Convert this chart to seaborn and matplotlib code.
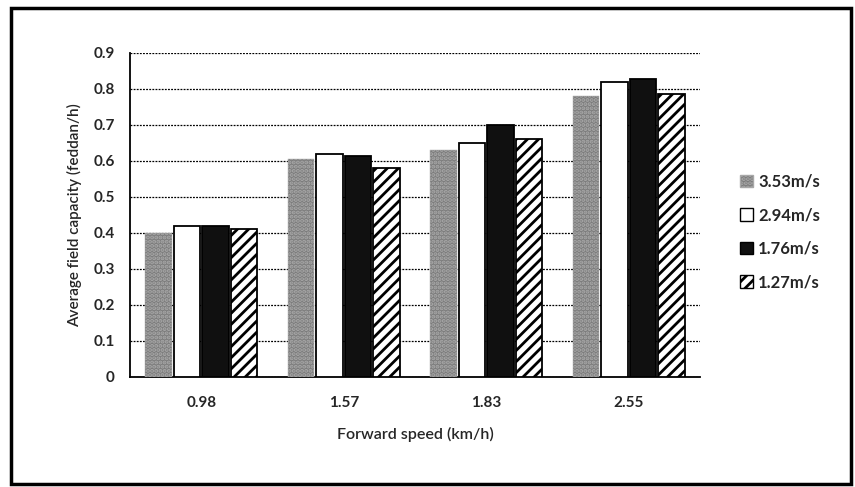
import matplotlib
matplotlib.use("Agg")
import matplotlib.pyplot as plt
import matplotlib.patches as mpatches
from matplotlib.ticker import FixedLocator
import pandas as pd
import seaborn as sns

speeds = ["0.98", "1.57", "1.83", "2.55"]
series = ["3.53m/s", "2.94m/s", "1.76m/s", "1.27m/s"]
v_353 = [0.40, 0.605, 0.63, 0.78]
v_294 = [0.42, 0.62, 0.65, 0.82]
v_176 = [0.42, 0.615, 0.70, 0.827]
v_127 = [0.41, 0.58, 0.66, 0.786]

df = pd.DataFrame({
    "speed": speeds * 4,
    "air": [s for s in series for _ in speeds],
    "cap": v_353 + v_294 + v_176 + v_127,
})

sns.set_style("white")
plt.rcParams["font.family"] = ["Lato", "DejaVu Sans"]
plt.rcParams["hatch.linewidth"] = 2.0

fig = plt.figure(figsize=(8.55, 4.87), dpi=100)
ax = fig.add_axes([130 / 855, 1 - 377 / 487, 570 / 855, 324 / 487])

styles = [
    dict(facecolor="#7c7c7c", edgecolor="#a8a8a8", hatch="...."),
    dict(facecolor="white", edgecolor="black", hatch=None),
    dict(facecolor="#101010", edgecolor="black", hatch=None),
    dict(facecolor="white", edgecolor="black", hatch="///"),
]

sns.barplot(data=df, x="speed", y="cap", hue="air", order=speeds,
            hue_order=series, width=0.8, gap=0.06, ax=ax, legend=False)

for cont, st in zip(ax.containers, styles):
    for bar in cont:
        bar.set_facecolor(st["facecolor"])
        bar.set_edgecolor(st["edgecolor"])
        bar.set_linewidth(1.3)
        if st["hatch"]:
            bar.set_hatch(st["hatch"])
        bar.set_zorder(3)
for bar in ax.containers[0]:
    bar.set_linewidth(0.3)

ax.set_ylim(0, 0.9)
ax.set_xlim(-0.5, 3.5)
ax.set_yticks([i / 10 for i in range(10)])
ax.set_yticklabels(["0"] + [f"0.{i}" for i in range(1, 10)],
                   fontsize=11, fontweight="bold")
ax.set_xticks(range(4))
ax.set_xticklabels(speeds, fontsize=11, fontweight="bold")
ax.xaxis.set_minor_locator(FixedLocator([-0.5, 0.5, 1.5, 2.5, 3.5]))
ax.tick_params(axis="x", which="major", length=0, pad=14)
ax.tick_params(axis="x", which="minor", length=5, direction="out", width=1)
ax.tick_params(axis="y", length=5, direction="out", width=1, pad=6)

ax.grid(axis="y", color="black", linestyle=(0, (1.5, 1)), linewidth=0.9, zorder=0)
ax.set_axisbelow(True)
for side in ["top", "right"]:
    ax.spines[side].set_visible(False)
for side in ["left", "bottom"]:
    ax.spines[side].set_color("black")
    ax.spines[side].set_linewidth(1.3)

ax.set_xlabel("Forward speed (km/h)", fontsize=11.5, labelpad=12, fontweight="semibold")
ax.set_ylabel("Average field capacity (feddan/h)", fontsize=11, labelpad=8,
              fontweight="semibold")

handles = [mpatches.Patch(facecolor=st["facecolor"], edgecolor=st["edgecolor"],
                          hatch=st["hatch"], label=s)
           for st, s in zip(styles, series)]
fig.legend(handles=handles, loc="center left", bbox_to_anchor=(725 / 855, 1 - 232 / 487),
           frameon=False, handlelength=0.8, handleheight=0.8,
           handletextpad=0.3, labelspacing=1.05, prop={"weight": "bold", "size": 12})

fig.patches.append(mpatches.Rectangle((11 / 855, 3 / 487), 840 / 855, 476 / 487,
                                      transform=fig.transFigure, fill=False,
                                      edgecolor="black", linewidth=2.5))

fig.savefig("out.png", dpi=100)
